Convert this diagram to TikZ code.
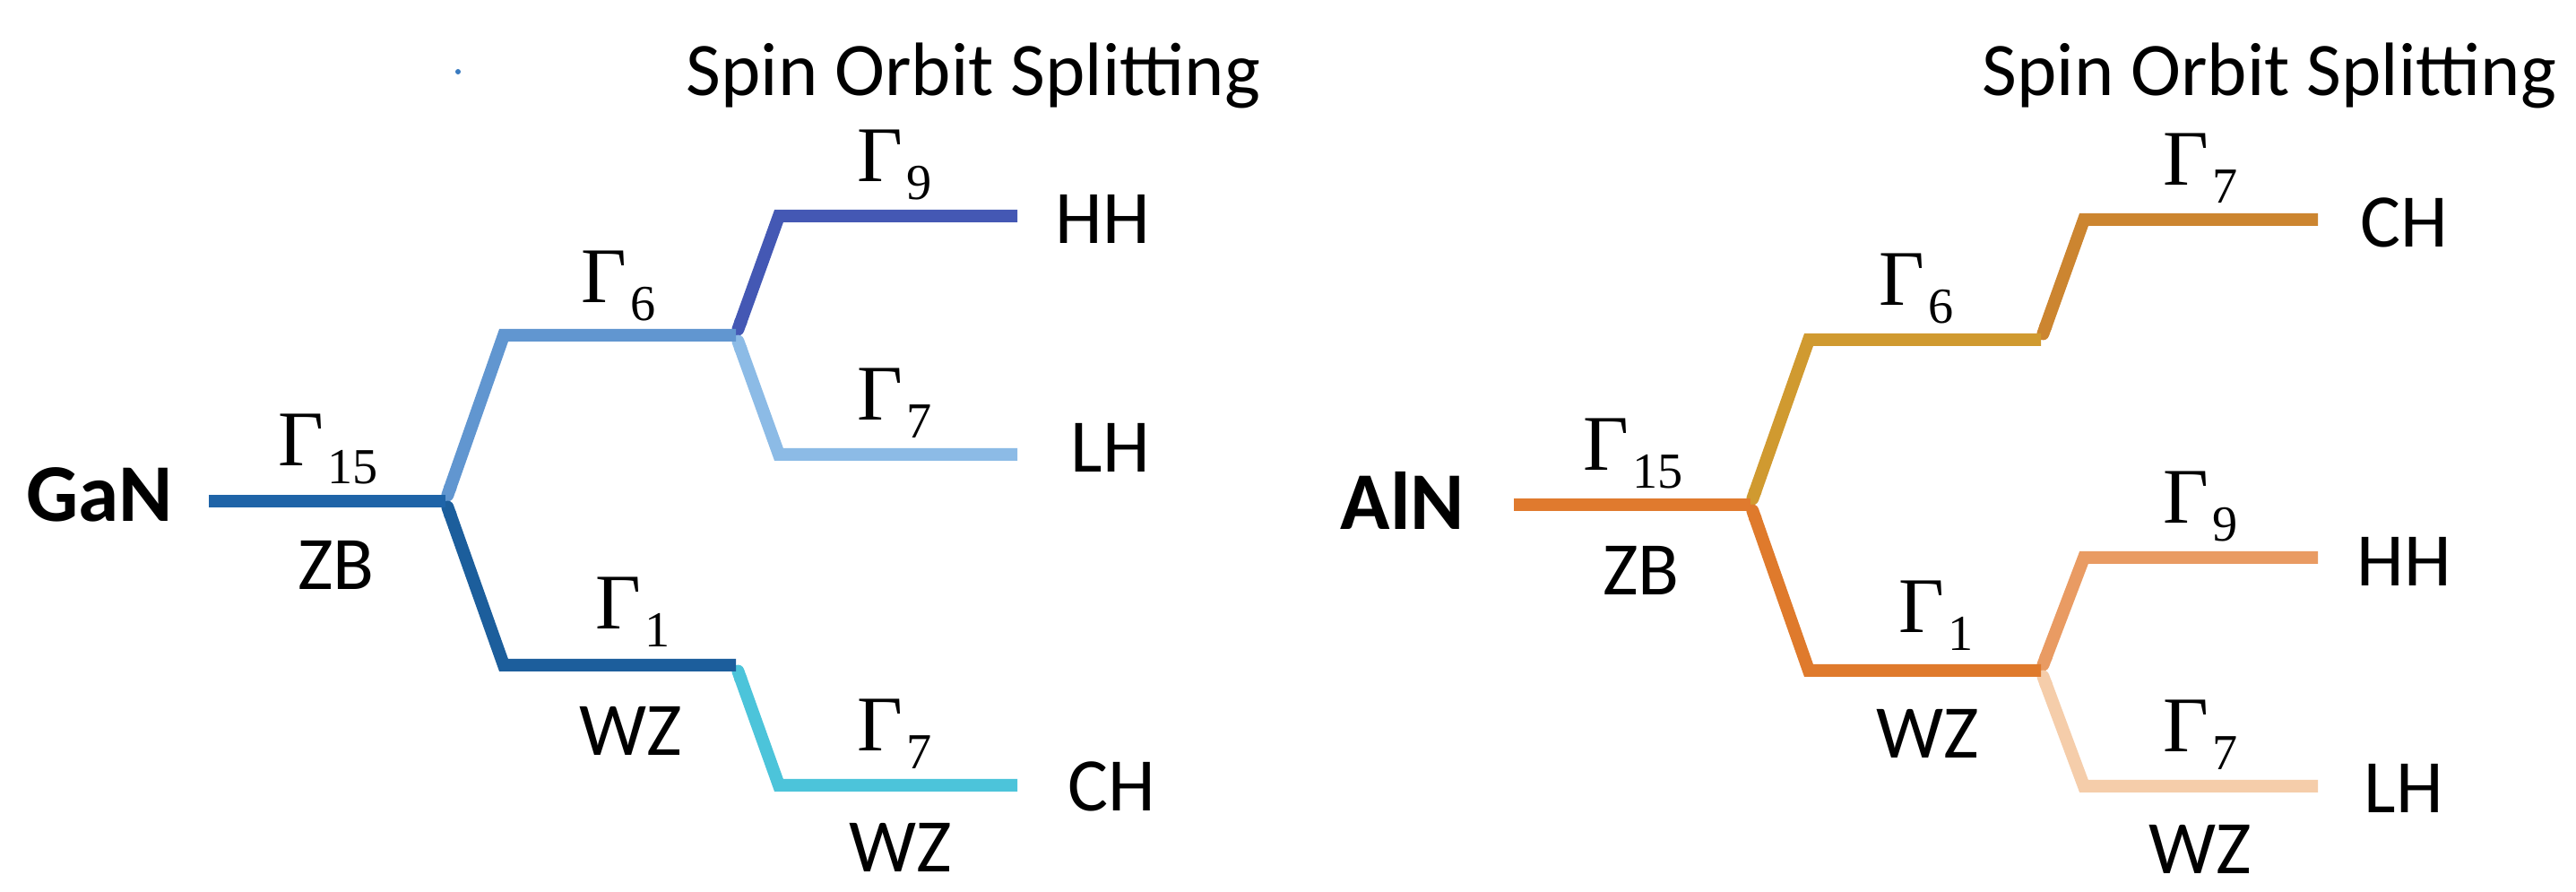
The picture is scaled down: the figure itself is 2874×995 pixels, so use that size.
\documentclass[tikz,border=0pt]{standalone}
\usepackage{fontspec}
\setmainfont{Carlito}
\newfontfamily\gfont{Liberation Serif}
\newcommand{\Gm}[1]{{\gfont Γ}\kern0.04em\raisebox{-0.22em}{\fontsize{16}{18}\selectfont\gfont #1}}
\usetikzlibrary{arrows.meta}
\definecolor{gTrunk}{HTML}{1F64A8}
\definecolor{gUp}{HTML}{6196D0}
\definecolor{gHH}{HTML}{4458B4}
\definecolor{gLH}{HTML}{8CBBE6}
\definecolor{gLow}{HTML}{1C5E9C}
\definecolor{gCH}{HTML}{4CC4DA}
\definecolor{aTrunk}{HTML}{E07A2E}
\definecolor{aUp}{HTML}{D09A30}
\definecolor{aCH}{HTML}{CC8530}
\definecolor{aLow}{HTML}{DF7A2C}
\definecolor{aHH}{HTML}{E99B63}
\definecolor{aLH}{HTML}{F5CDAA}
\definecolor{dotblue}{HTML}{3A7BC0}
\begin{document}
\begin{tikzpicture}[x=0.01cm,y=-0.01cm,
  lvl/.style={line width=0.14cm, line cap=butt, line join=miter},
  brn/.style={lvl, arrows={Round Cap[]-}},
  txt/.style={font=\fontsize{24}{29}\selectfont, inner sep=0pt, anchor=base},
  gam/.style={font=\fontsize{25}{29}\selectfont, inner sep=0pt, anchor=base},
  mat/.style={font=\fontsize{26}{30}\selectfont\bfseries, inner sep=0pt, anchor=base}]
\useasboundingbox[fill=white] (0,0) rectangle (2874,995);

% ---------- GaN (left) ----------
\coordinate (gs)  at (233,559);
\coordinate (gb)  at (497,559);
\coordinate (gu1) at (562,374);
\coordinate (gu2) at (821,374);
\coordinate (gh1) at (869,241);
\coordinate (gh2) at (1135,241);
\coordinate (gl1) at (869,507);
\coordinate (gl2) at (1135,507);
\coordinate (gd1) at (562,742);
\coordinate (gd2) at (821,742);
\coordinate (gc1) at (869,876);
\coordinate (gc2) at (1135,876);

\draw[brn, gHH]  (gu2) -- (gh1) -- (gh2);
\draw[brn, gLH]  (gu2) -- (gl1) -- (gl2);
\draw[brn, gCH]  (gd2) -- (gc1) -- (gc2);
\draw[brn, gUp]  (gb) -- (gu1) -- (gu2);
\draw[brn, gLow] (gb) -- (gd1) -- (gd2);
\draw[lvl, gTrunk] (gs) -- (gb);

\fill[dotblue] (511,80) circle (3);

\node[mat] (gan) at (111,582) {GaN};
\node[gam] (gG15) at (366,520) {\Gm{15}};
\node[txt] (gZB)  at (375,658) {ZB};
\node[gam] (gG6)  at (690,338) {\Gm{6}};
\node[gam] (gG9)  at (998,203) {\Gm{9}};
\node[gam] (gG7a) at (998,469) {\Gm{7}};
\node[gam] (gG1)  at (706,702) {\Gm{1}};
\node[txt] (gWZ1) at (704,843) {WZ};
\node[gam] (gG7b) at (998,838) {\Gm{7}};
\node[txt] (gWZ2) at (1005,973) {WZ};
\node[txt] (gHHt) at (1230,272) {HH};
\node[txt] (gLHt) at (1239,527) {LH};
\node[txt] (gCHt) at (1240,905) {CH};
\node[txt, anchor=base west] (gSOS) at (765,107) {Spin Orbit Splitting};

% ---------- AlN (right) ----------
\coordinate (as)  at (1689,563);
\coordinate (ab)  at (1953,563);
\coordinate (au1) at (2018,379);
\coordinate (au2) at (2277,379);
\coordinate (ac1) at (2325,245);
\coordinate (ac2) at (2586,245);
\coordinate (ad1) at (2018,748);
\coordinate (ad2) at (2277,748);
\coordinate (ah1) at (2325,622);
\coordinate (ah2) at (2586,622);
\coordinate (al1) at (2325,877);
\coordinate (al2) at (2586,877);

\draw[brn, aCH]  (au2) -- (ac1) -- (ac2);
\draw[brn, aHH]  (ad2) -- (ah1) -- (ah2);
\draw[brn, aLH]  (ad2) -- (al1) -- (al2);
\draw[brn, aUp]  (ab) -- (au1) -- (au2);
\draw[brn, aLow] (ab) -- (ad1) -- (ad2);
\draw[lvl, aTrunk] (as) -- (ab);

\node[mat] (aln) at (1565,591) {AlN};
\node[gam] (aG15) at (1822,525) {\Gm{15}};
\node[txt] (aZB)  at (1831,664) {ZB};
\node[gam] (aG6)  at (2138,341) {\Gm{6}};
\node[gam] (aG7a) at (2455,207) {\Gm{7}};
\node[gam] (aG9)  at (2455,584) {\Gm{9}};
\node[gam] (aG1)  at (2160,706) {\Gm{1}};
\node[txt] (aWZ1) at (2151,846) {WZ};
\node[gam] (aG7b) at (2455,839) {\Gm{7}};
\node[txt] (aWZ2) at (2455,975) {WZ};
\node[txt] (aCHt) at (2682,276) {CH};
\node[txt] (aHHt) at (2682,654) {HH};
\node[txt] (aLHt) at (2682,907) {LH};
\node[txt, anchor=base east] (aSOS) at (2853,107) {Spin Orbit Splitting};
\end{tikzpicture}
\end{document}
